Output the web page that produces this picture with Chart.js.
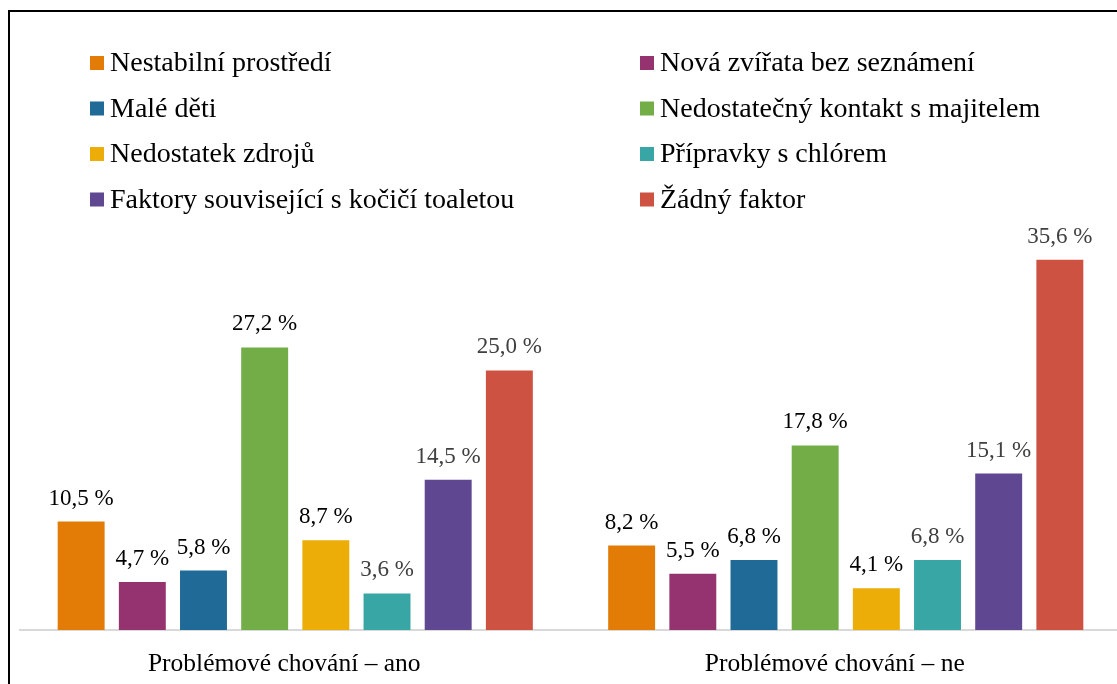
<!DOCTYPE html>
<html>
<head>
<meta charset="utf-8">
<script src="https://cdn.jsdelivr.net/npm/chart.js@4"></script>
<style>
  html, body { margin: 0; padding: 0; background: #fff; overflow: hidden; }
  #wrap { position: absolute; left: 0; top: 0; width: 1125px; height: 684px; }
</style>
</head>
<body>
<div id="wrap"><canvas id="c" width="1125" height="684"></canvas></div>
<script>
const categories = ['Problémové chování – ano', 'Problémové chování – ne'];
const seriesNames = [
  'Nestabilní prostředí',
  'Nová zvířata bez seznámení',
  'Malé děti',
  'Nedostatečný kontakt s majitelem',
  'Nedostatek zdrojů',
  'Přípravky s chlórem',
  'Faktory související s kočičí toaletou',
  'Žádný faktor'
];
const nestabilni = [10.5, 8.2];
const novaZvirata = [4.7, 5.5];
const maleDeti = [5.8, 6.8];
const kontakt = [27.2, 17.8];
const zdroje = [8.7, 4.1];
const chlor = [3.6, 6.8];
const toaleta = [14.5, 15.1];
const zadny = [25.0, 35.6];
const seriesValues = [nestabilni, novaZvirata, maleDeti, kontakt, zdroje, chlor, toaleta, zadny];
const colors = ['#e27c07', '#94336f', '#1f6a96', '#73ad48', '#edad08', '#39a6a6', '#5f4791', '#cd5241'];
const labelColors = ['#000', '#000', '#000', '#000', '#000', '#404040', '#404040', '#404040'];

const SERIF = '"Liberation Serif", "Times New Roman", serif';

const datasets = seriesNames.map((name, i) => ({
  label: name,
  data: seriesValues[i],
  backgroundColor: colors[i],
  borderColor: 'rgba(255,255,255,0.3)',
  borderWidth: 1,
  categoryPercentage: 0.889,
  barPercentage: 0.8
}));

const framePlugin = {
  id: 'frame',
  beforeDraw(chart) {
    const ctx = chart.ctx;
    ctx.save();
    ctx.fillStyle = '#fff';
    ctx.fillRect(0, 0, chart.width, chart.height);
    ctx.fillStyle = '#000';
    ctx.fillRect(8, 10, 2, chart.height);
    ctx.fillRect(8, 10, chart.width, 2);
    ctx.restore();
  }
};

const labelPlugin = {
  id: 'labels',
  afterDatasetsDraw(chart) {
    const ctx = chart.ctx;
    ctx.save();
    ctx.font = '23px ' + SERIF;
    ctx.textAlign = 'center';
    ctx.textBaseline = 'alphabetic';
    chart.data.datasets.forEach((ds, i) => {
      const meta = chart.getDatasetMeta(i);
      ctx.fillStyle = labelColors[i];
      meta.data.forEach((bar, j) => {
        const v = ds.data[j];
        ctx.fillText(v.toFixed(1).replace('.', ',') + ' %', bar.x, bar.y - 16);
      });
    });
    const xs = chart.scales.x;
    ctx.fillStyle = '#000';
    ctx.font = '25.5px ' + SERIF;
    chart.data.labels.forEach((lab, j) => {
      ctx.fillText(lab, xs.getPixelForValue(j) - 11, 671);
    });
    ctx.restore();
  },
  afterDraw(chart) {
    const ctx = chart.ctx;
    ctx.save();
    ctx.font = '28px ' + SERIF;
    ctx.textAlign = 'left';
    ctx.textBaseline = 'alphabetic';
    chart.data.datasets.forEach((ds, i) => {
      const col = i % 2, row = Math.floor(i / 2);
      const sx = col === 0 ? 90 : 640;
      const cy = 63 + row * 45.5;
      ctx.fillStyle = ds.backgroundColor;
      ctx.fillRect(sx, cy - 7, 14, 14);
      ctx.fillStyle = '#000';
      ctx.fillText(ds.label, sx + 20, cy + 8);
    });
    ctx.restore();
  }
};

new Chart(document.getElementById('c'), {
  type: 'bar',
  data: { labels: categories, datasets },
  options: {
    responsive: false,
    animation: false,
    devicePixelRatio: 1,
    layout: { padding: { top: 213, left: 20, right: 4, bottom: 0 } },
    plugins: { legend: { display: false }, tooltip: { enabled: false } },
    scales: {
      x: {
        grid: { display: false, drawTicks: false },
        border: { display: true, color: '#d9d9d9', width: 2 },
        ticks: { display: false },
        afterFit(scale) { scale.height = 54; }
      },
      y: { display: false, min: 0, max: 40 }
    }
  },
  plugins: [framePlugin, labelPlugin]
});
</script>
</body>
</html>
